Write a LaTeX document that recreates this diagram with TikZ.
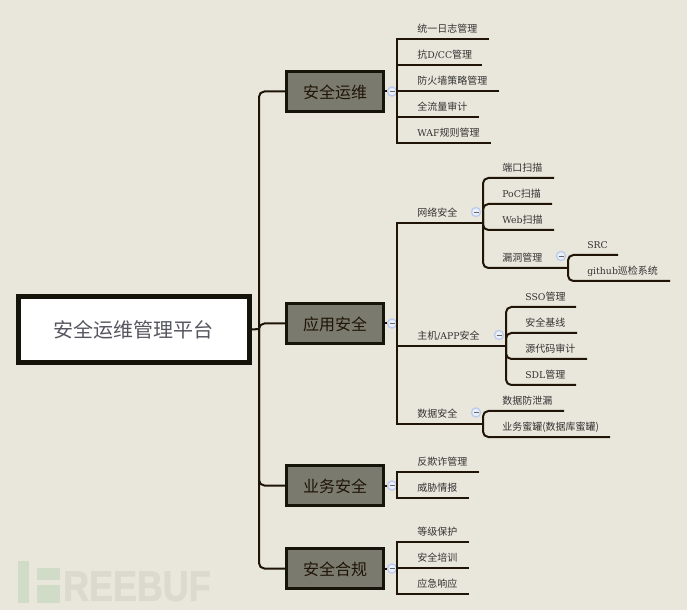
\documentclass[tikz,border=0pt]{standalone}
\usepackage{fontspec}
\setmainfont{Noto Sans CJK SC}
\newfontfamily\latfont{DejaVu Serif}
\newfontfamily\markfont[BoldFeatures={FakeBold=1.5}]{Liberation Sans}
\newcommand{\lat}[1]{{\latfont\fontsize{7}{8}\selectfont #1}}
\definecolor{bgcol}{HTML}{E9E7DB}
\definecolor{linecol}{HTML}{1F1405}
\definecolor{edgecol}{HTML}{14140A}
\definecolor{topiccol}{HTML}{7A7A6E}
\definecolor{btncol}{HTML}{BCCBEE}
\definecolor{logocol}{HTML}{D0DCC8}
\definecolor{markcol}{HTML}{DCDACE}
\definecolor{rootcol}{HTML}{55565F}
\tikzset{
	rootbox/.style={draw=edgecol,fill=white,line width=3.75pt,minimum width=173.25pt,minimum height=49.5pt,inner sep=0pt,text height=13.2pt,text depth=1pt,font=\fontsize{15}{18}\selectfont,text=rootcol},
	topicbox/.style={draw=edgecol,fill=topiccol,line width=2.25pt,minimum width=72.75pt,minimum height=30pt,inner sep=0pt,text height=11.3pt,text depth=0.7pt,font=\fontsize{12}{14}\selectfont,text=linecol},
	leaf/.style={anchor=west,inner sep=0pt,yshift=-0.75pt,font=\fontsize{7.5}{9}\selectfont,text=black!80},
	branch/.style={draw=linecol,line width=1.5pt},
	curved/.style={branch,rounded corners=4pt},
	btn/.style={circle,draw=btncol,fill=white!70!btncol,line width=1pt,minimum size=6.8pt,inner sep=0pt,path picture={\draw[black!60,line width=0.7pt] (-2.5,0)--(2.5,0);}}
}
\begin{document}
\begin{tikzpicture}[x=0.75pt,y=-0.75pt]
	\fill[bgcol] (0,0) rectangle (687,610);
	\useasboundingbox (0,0) rectangle (687,610);
	\fill[logocol] (18,561) rectangle (29,603);
	\fill[logocol] (37,568) rectangle (60,580);
	\fill[logocol] (37,585) rectangle (60,603);
	\node[anchor=west,inner sep=0pt,transform shape,xscale=0.84,text height=23pt,text depth=0pt,font=\markfont\bfseries\fontsize{32}{32}\selectfont,text=markcol] (freebuf) at (63,585.5) {REEBUF};

	\node[rootbox] (root) at (134,329.5) {安全运维管理平台};
	\node[topicbox] (yunwei) at (335,91.5) {安全运维};
	\node[topicbox] (yingyong) at (335,323.5) {应用安全};
	\node[topicbox] (yewu) at (335,485.5) {业务安全};
	\node[topicbox] (hegui) at (335,568.5) {安全合规};
	\coordinate (trunk) at (259,329);

	\draw[curved] (yunwei.west) -- (trunk |- yunwei.west) -- (trunk |- hegui.west) -- (hegui.west);
	\draw[branch] (root.east) -- (trunk);
	\draw[curved] (trunk) -- (trunk |- yingyong.west) -- (yingyong.west);
	\draw[curved] (trunk) -- (trunk |- yewu.west) -- (yewu.west);

	\node[btn] (btnyw) at (392,91.5) {};
	\node[btn] (btnyy) at (392,323.5) {};
	\node[btn] (btnyb) at (392,485.5) {};
	\node[btn] (btnhg) at (392,568.5) {};
	\coordinate (busa) at (397,91);

	\draw[branch] (yunwei.east) -- (btnyw.west);
	\draw[branch] (yingyong.east) -- (btnyy.west);
	\draw[branch] (yewu.east) -- (btnyb.west);
	\draw[branch] (hegui.east) -- (btnhg.west);
	\draw[branch] (btnyw.east) -- (busa |- btnyw.east);
	\draw[branch] (btnyy.east) -- (busa |- btnyy.east);
	\draw[branch] (btnyb.east) -- (busa |- btnyb.east);
	\draw[branch] (btnhg.east) -- (busa |- btnhg.east);

	\node[leaf] (rizhi) at (417,28) {统一日志管理};
	\node[leaf] (kangd) at (417,54) {抗\lat{D/CC}管理};
	\node[leaf] (fanghuo) at (417,80) {防火墙策略管理};
	\node[leaf] (liuliang) at (417,106) {全流量审计};
	\node[leaf] (waf) at (417,132) {\lat{WAF}规则管理};
	\coordinate (rizhie) at (489,39);
	\coordinate (kangde) at (482,65);
	\coordinate (fanghuoe) at (499,91);
	\coordinate (liuliange) at (479,117);
	\coordinate (wafe) at (491,143);
	\draw[branch] (rizhie) -- (busa |- rizhie) -- (busa |- wafe) -- (wafe);
	\draw[branch] (kangde) -- (busa |- kangde);
	\draw[branch] (fanghuoe) -- (busa |- fanghuoe);
	\draw[branch] (liuliange) -- (busa |- liuliange);

	\node[leaf] (wangluo) at (417,212) {网络安全};
	\node[leaf] (zhuji) at (417,335) {主机\lat{/APP}安全};
	\node[leaf] (shuju) at (417,413) {数据安全};
	\node[btn] (btnwl) at (476,212) {};
	\node[btn] (btnzj) at (499,335) {};
	\node[btn] (btnsj) at (476,412.5) {};
	\coordinate (wangluoe) at (483,223);
	\coordinate (zhujie) at (506,346);
	\coordinate (shujue) at (483,424);
	\draw[branch] (wangluoe) -- (busa |- wangluoe) -- (busa |- shujue) -- (shujue);
	\draw[branch] (zhujie) -- (busa |- zhujie);

	\node[leaf] (duankou) at (502,167) {端口扫描};
	\node[leaf] (poc) at (502,193) {\lat{PoC}扫描};
	\node[leaf] (web) at (502,219) {\lat{Web}扫描};
	\node[leaf] (loudong) at (502,257) {漏洞管理};
	\node[btn] (btnld) at (561,256) {};
	\coordinate (duankoue) at (554,178);
	\coordinate (poce) at (552,204);
	\coordinate (webe) at (554,230);
	\coordinate (loudonge) at (568,268);
	\draw[curved] (duankoue) -- (wangluoe |- duankoue) -- (wangluoe |- loudonge) -- (loudonge);
	\draw[curved] (poce) -- (wangluoe |- poce) -- (wangluoe);
	\draw[curved] (webe) -- (wangluoe |- webe) -- (wangluoe);

	\node[leaf] (src) at (587,244) {\lat{SRC}};
	\node[leaf] (github) at (587,270) {\lat{github}巡检系统};
	\coordinate (srce) at (618,255);
	\coordinate (githube) at (670,281);
	\draw[curved] (srce) -- (loudonge |- srce) -- (loudonge |- githube) -- (githube);

	\node[leaf] (sso) at (525,296) {\lat{SSO}管理};
	\node[leaf] (jixian) at (525,322) {安全基线};
	\node[leaf] (yuandaima) at (525,348) {源代码审计};
	\node[leaf] (sdl) at (525,374) {\lat{SDL}管理};
	\coordinate (ssoe) at (576,307);
	\coordinate (jixiane) at (577,333);
	\coordinate (yuandaimae) at (587,359);
	\coordinate (sdle) at (576,385);
	\draw[curved] (ssoe) -- (zhujie |- ssoe) -- (zhujie |- sdle) -- (sdle);
	\draw[curved] (jixiane) -- (zhujie |- jixiane) -- (zhujie);
	\draw[curved] (yuandaimae) -- (zhujie |- yuandaimae) -- (zhujie);

	\node[leaf] (fangxie) at (502,400) {数据防泄漏};
	\node[leaf] (miguan) at (502,426) {业务蜜罐(数据库蜜罐)};
	\coordinate (fangxiee) at (564,411);
	\coordinate (miguane) at (610,437);
	\draw[curved] (fangxiee) -- (shujue |- fangxiee) -- (shujue |- miguane) -- (miguane);

	\node[leaf] (fanqizha) at (417,461) {反欺诈管理};
	\node[leaf] (weixie) at (417,487) {威胁情报};
	\coordinate (fanqizhae) at (479,472);
	\coordinate (weixiee) at (469,498);
	\draw[branch] (fanqizhae) -- (busa |- fanqizhae) -- (busa |- weixiee) -- (weixiee);

	\node[leaf] (dengji) at (417,531) {等级保护};
	\node[leaf] (peixun) at (417,557) {安全培训};
	\node[leaf] (xiangying) at (417,583) {应急响应};
	\coordinate (dengjie) at (469,542);
	\coordinate (peixune) at (469,568);
	\coordinate (xiangyinge) at (469,594);
	\draw[branch] (dengjie) -- (busa |- dengjie) -- (busa |- xiangyinge) -- (xiangyinge);
	\draw[branch] (peixune) -- (busa |- peixune);
\end{tikzpicture}
\end{document}
